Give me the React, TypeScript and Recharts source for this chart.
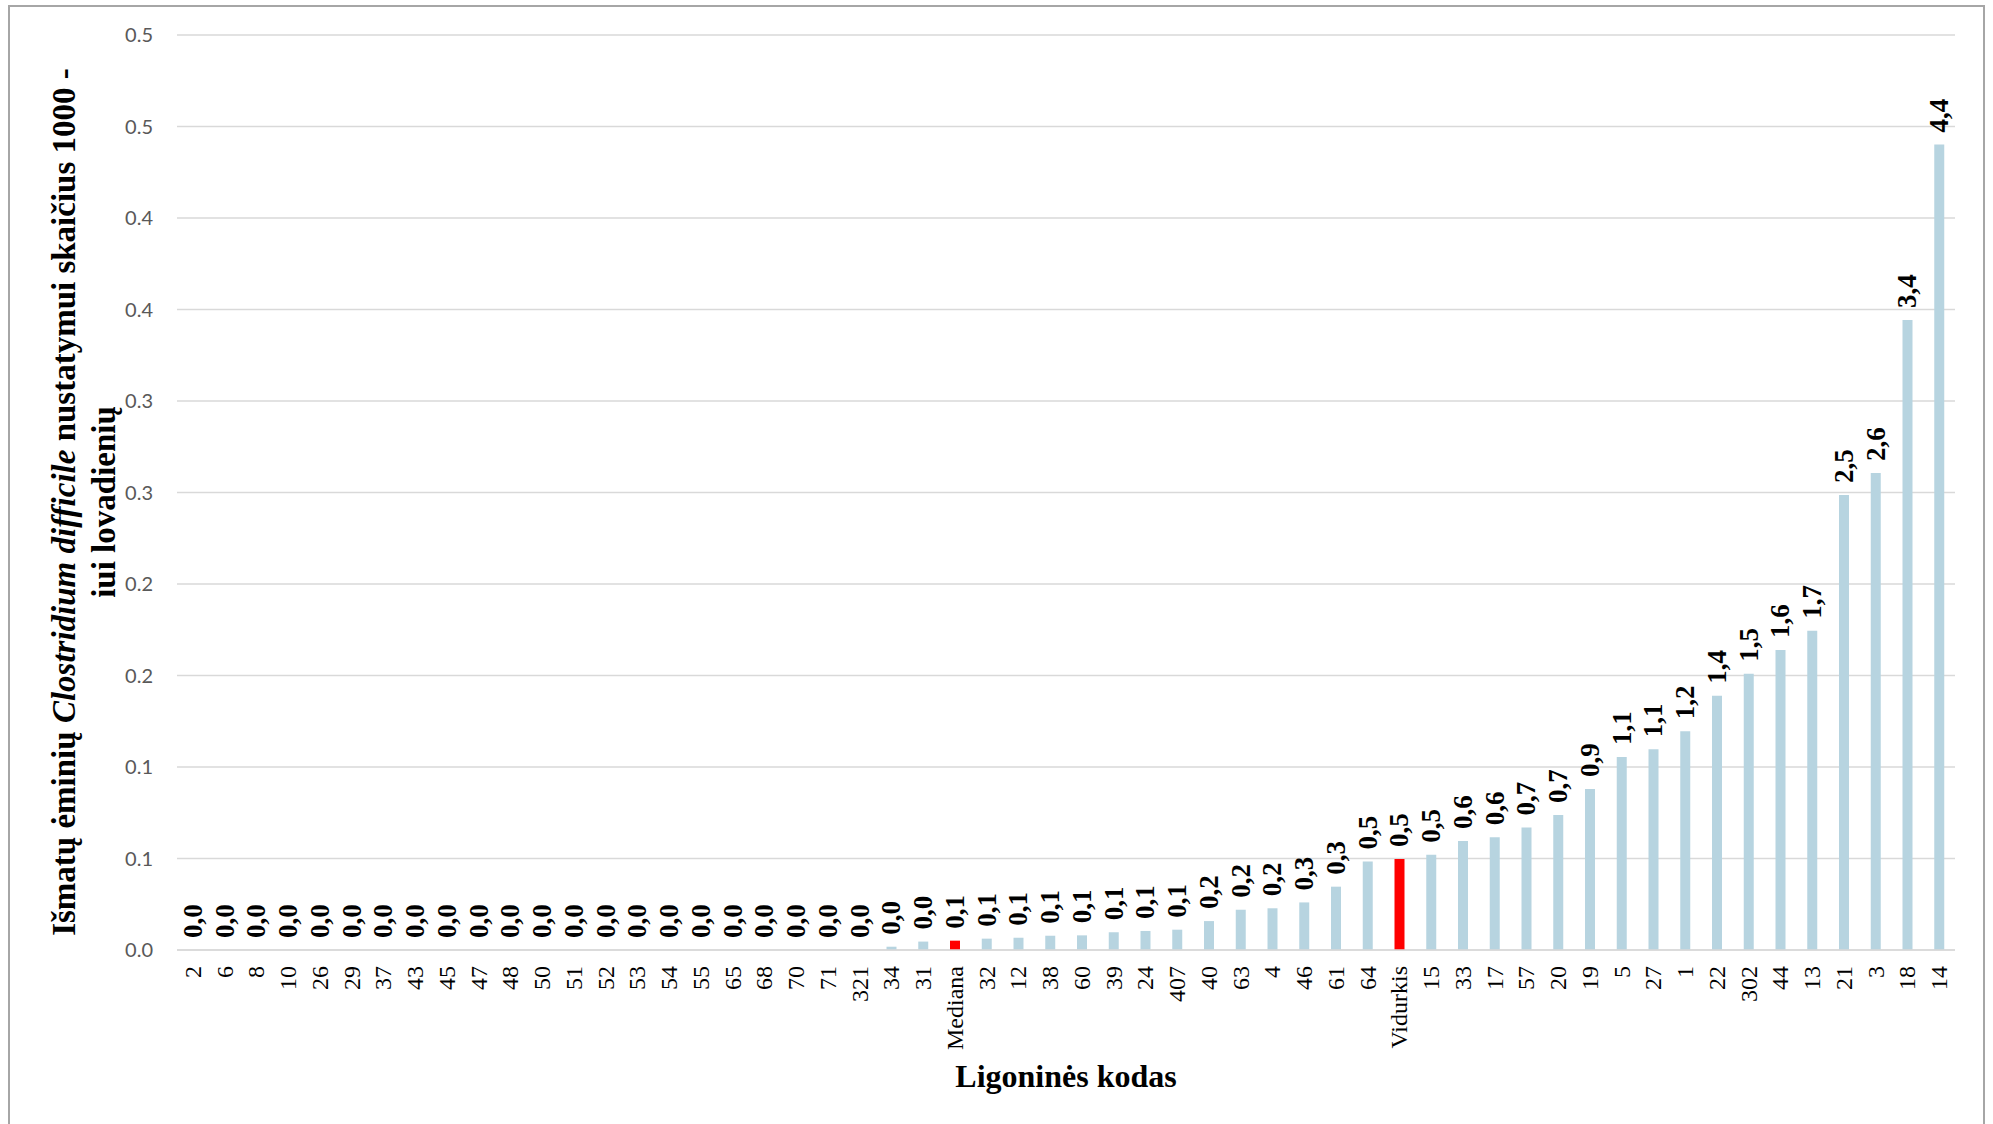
import { ComposedChart, Bar, Line, XAxis, YAxis, CartesianGrid, Cell, LabelList } from "recharts";

const categories = [
  "2", "6", "8", "10", "26", "29", "37", "43", "45", "47", "48", "50", "51", "52", "53", "54", "55", "65", "68", "70",
  "71", "321", "34", "31", "Mediana", "32", "12", "38", "60", "39", "24", "407", "40", "63", "4", "46", "61", "64",
  "Vidurkis", "15", "33", "17", "57", "20", "19", "5", "27", "1", "22", "302", "44", "13", "21", "3", "18", "14",
];

const values = [
  0, 0, 0, 0, 0, 0, 0, 0, 0, 0, 0, 0, 0, 0, 0, 0, 0, 0, 0, 0,
  0, 0, 0.0018, 0.0046, 0.0051, 0.0062, 0.0067, 0.0078, 0.008, 0.0097, 0.0104, 0.0111, 0.0158, 0.022, 0.0228, 0.026, 0.0346, 0.0483,
  0.0497, 0.0521, 0.0596, 0.0616, 0.067, 0.0738, 0.088, 0.1055, 0.1097, 0.1195, 0.139, 0.151, 0.1639, 0.1745, 0.2486, 0.2607, 0.3443, 0.4402,
];

const barLabels = [
  "0,0", "0,0", "0,0", "0,0", "0,0", "0,0", "0,0", "0,0", "0,0", "0,0", "0,0", "0,0", "0,0", "0,0", "0,0", "0,0", "0,0", "0,0", "0,0", "0,0",
  "0,0", "0,0", "0,0", "0,0", "0,1", "0,1", "0,1", "0,1", "0,1", "0,1", "0,1", "0,1", "0,2", "0,2", "0,2", "0,3", "0,3", "0,5",
  "0,5", "0,5", "0,6", "0,6", "0,7", "0,7", "0,9", "1,1", "1,1", "1,2", "1,4", "1,5", "1,6", "1,7", "2,5", "2,6", "3,4", "4,4",
];

const highlighted = ["Mediana", "Vidurkis"];

const yTicks = [0, 0.05, 0.1, 0.15, 0.2, 0.25, 0.3, 0.35, 0.4, 0.45, 0.5];
const yTickLabels = ["0.0", "0.1", "0.1", "0.2", "0.2", "0.3", "0.3", "0.4", "0.4", "0.5", "0.5"];

const data = categories.map((c, i) => ({ code: c, value: values[i], label: barLabels[i] }));

const SERIF = "'Liberation Serif', 'Times New Roman', serif";

function XTick({ x, y, payload }: any) {
  return (
    <text x={x} y={y} transform={`rotate(-90, ${x}, ${y})`} textAnchor="end" dominantBaseline="central"
      fontFamily={SERIF} fontSize={24} fill="#000">
      {payload.value}
    </text>
  );
}

// labels hang off an invisible line so zero bars get one too
function BarLabel({ x, y, value }: any) {
  const ty = y - 12;
  return (
    <text x={x} y={ty} transform={`rotate(-90, ${x}, ${ty})`} textAnchor="start" dominantBaseline="central"
      fontFamily={SERIF} fontWeight="bold" fontSize={27} fill="#000">
      {value}
    </text>
  );
}

export default function App() {
  return (
    <div style={{ position: "absolute", left: 0, top: 0, width: 1993, height: 1124, background: "#fff", overflow: "hidden" }}>
      <div style={{ position: "absolute", left: 8, top: 5, width: 1977, height: 1140, border: "2px solid #a6a6a6", boxSizing: "border-box" }} />
      <div style={{ position: "absolute", left: 0, top: 0 }}>
        <ComposedChart width={1993} height={1124} data={data} margin={{ top: 35, right: 38, left: 0, bottom: 0 }}>
          <CartesianGrid vertical={false} stroke="#d9d9d9" strokeWidth={1.5} />
          <XAxis dataKey="code" interval={0} height={174} tick={<XTick />} tickLine={false} tickSize={0} tickMargin={16}
            axisLine={{ stroke: "#d9d9d9", strokeWidth: 1.5 }} />
          <YAxis width={177} domain={[0, 0.5]} ticks={yTicks} tickLine={false} tickSize={0} tickMargin={24} axisLine={false}
            tickFormatter={(v: number) => yTickLabels[yTicks.indexOf(v)]}
            tick={{ fontSize: 20, fill: "#595959", fontFamily: "Lato, 'Open Sans', sans-serif" }} />
          <Bar dataKey="value" barSize={10} isAnimationActive={false}>
            {data.map((d) => (
              <Cell key={d.code} fill={highlighted.includes(d.code) ? "#ff0000" : "#b7d4e0"} />
            ))}
          </Bar>
          <Line dataKey="value" stroke="none" dot={false} activeDot={false} isAnimationActive={false}>
            <LabelList dataKey="label" content={<BarLabel />} />
          </Line>
        </ComposedChart>
      </div>
      <div style={{
        position: "absolute", left: 84 - 480, top: 502 - 40, width: 960, height: 80, transform: "rotate(-90deg)",
        textAlign: "center", fontFamily: SERIF, fontWeight: "bold", fontSize: 33, lineHeight: "40px", color: "#000",
      }}>
        Išmatų ėminių <i>Clostridium difficile</i> nustatymui skaičius 1000 -<br />iui lovadienių
      </div>
      <div style={{
        position: "absolute", left: 1066 - 300, top: 1076 - 20, width: 600, textAlign: "center",
        fontFamily: SERIF, fontWeight: "bold", fontSize: 32, lineHeight: "40px", color: "#000",
      }}>
        Ligoninės kodas
      </div>
    </div>
  );
}
